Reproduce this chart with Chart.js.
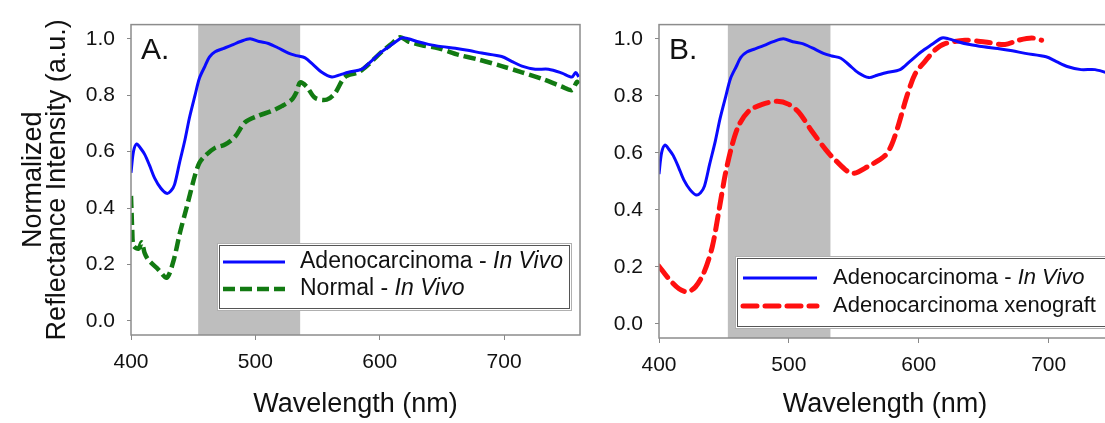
<!DOCTYPE html>
<html>
<head>
<meta charset="utf-8">
<script src="https://cdn.jsdelivr.net/npm/chart.js@4.4.1/dist/chart.umd.min.js"></script>
<style>
  html, body { margin: 0; padding: 0; background: #fff; overflow: hidden; width: 1105px; height: 423px; }
  #panelA { position: absolute; left: 0; top: 0; }
  #panelB { position: absolute; left: 600px; top: 0; }
</style>
</head>
<body>
<canvas id="panelA" width="600" height="423"></canvas>
<canvas id="panelB" width="530" height="423"></canvas>
<script>
// Values: wavelength (nm) and normalized reflectance (a.u.)
const adenoWl = [400, 402, 404.6, 408, 411, 415, 419, 424, 428.7, 432, 435, 439, 443.4, 447, 451.5, 455, 459.5, 463, 467.6, 474,
  481, 488, 495.7, 503, 510.5, 518, 526.6, 533, 540, 546, 553.4, 561.5, 568, 574.8, 585.6, 593, 601.7, 610, 617.8, 623,
  630, 639.2, 650, 660.7, 672, 682, 698, 706, 714.3, 725, 735.7, 746.5, 754.5, 757.5, 760];
const adenoVal = [0.525, 0.60, 0.627, 0.61, 0.59, 0.55, 0.506, 0.47, 0.452, 0.46, 0.483, 0.56, 0.642, 0.72, 0.80, 0.86, 0.903, 0.935, 0.954, 0.965,
  0.977, 0.99, 1.0, 0.99, 0.983, 0.968, 0.949, 0.94, 0.932, 0.91, 0.881, 0.864, 0.872, 0.881, 0.892, 0.92, 0.954, 0.98, 1.003, 1.0,
  0.99, 0.98, 0.972, 0.966, 0.958, 0.949, 0.937, 0.92, 0.903, 0.892, 0.892, 0.878, 0.864, 0.88, 0.865];

const normalWl = [400, 400.5, 401, 402, 406, 408.7, 411, 414, 422, 428.7, 434, 439.4, 444.8, 451.5, 455, 459.5, 467.6, 475.6, 483.7, 491.7,
  502.4, 513.2, 521.2, 529.3, 533, 536, 541.3, 548, 557.4, 564, 572, 582.8, 591, 601.7, 609, 616.4, 623, 633.9, 647.3, 663.4,
  679.5, 698, 714.3, 730.4, 746.5, 754.5, 758.5, 760];
const normalVal = [0.443, 0.38, 0.32, 0.267, 0.256, 0.278, 0.24, 0.216, 0.182, 0.153, 0.21, 0.313, 0.403, 0.517, 0.56, 0.585, 0.613, 0.625, 0.653, 0.704,
  0.727, 0.744, 0.761, 0.784, 0.81, 0.845, 0.83, 0.79, 0.784, 0.807, 0.864, 0.881, 0.909, 0.954, 0.98, 1.005, 0.99, 0.977, 0.966, 0.943,
  0.926, 0.903, 0.881, 0.858, 0.83, 0.818, 0.847, 0.84];

const xenoWl = [400, 407.7, 415.4, 421.8, 428, 434.6, 441, 446, 451.2, 456.4, 461.5, 469.2, 479.5, 491, 500, 507.7, 518, 528.2, 535.6, 548.5,
  561.2, 574, 579.2, 584.3, 590.8, 597.2, 604.8, 612.5, 620.2, 635.6, 651, 666.4, 676.6, 687, 694.6];
const xenoVal = [0.202, 0.157, 0.123, 0.112, 0.129, 0.18, 0.27, 0.393, 0.528, 0.629, 0.697, 0.747, 0.77, 0.781, 0.77, 0.742, 0.674, 0.612, 0.575, 0.528,
  0.553, 0.59, 0.629, 0.697, 0.798, 0.877, 0.921, 0.961, 0.983, 0.995, 0.989, 0.98, 0.995, 1.003, 0.995];

const xTicks = [400, 500, 600, 700];
const yTicks = [0.0, 0.2, 0.4, 0.6, 0.8, 1.0];
const bandA = [454, 536]; // shaded wavelength window, panel A
const bandB = [453, 532]; // shaded wavelength window, panel B

const FONT = 'Arial, "Liberation Sans", sans-serif';
const pts = (xs, ys) => xs.map((x, i) => ({ x: x, y: ys[i] }));

const adenoSet = () => ({
  label: 'Adenocarcinoma - In Vivo', data: pts(adenoWl, adenoVal),
  borderColor: '#0a0aff', borderWidth: 3, pointRadius: 0, tension: 0.3, fill: false
});

// gray band, plot frame, panel letter and the custom legend
const panelDecor = {
  id: 'panelDecor',
  beforeDatasetsDraw(chart, args, opts) {
    const { ctx, chartArea: a, scales: { x } } = chart;
    const x0 = x.getPixelForValue(opts.band[0]);
    const x1 = x.getPixelForValue(opts.band[1]);
    ctx.save();
    ctx.fillStyle = '#bebebe';
    ctx.fillRect(x0, a.top, x1 - x0, a.bottom - a.top);
    ctx.restore();
  },
  afterDatasetsDraw(chart, args, opts) {
    const { ctx, chartArea: a } = chart;
    ctx.save();
    ctx.strokeStyle = '#8c8c8c';
    ctx.lineWidth = 1.5;
    ctx.strokeRect(a.left, a.top, a.right - a.left, a.bottom - a.top);

    ctx.fillStyle = '#111';
    ctx.font = '30px ' + FONT;
    ctx.textBaseline = 'alphabetic';
    ctx.fillText(opts.letter, a.left + 10, a.top + 34);

    const L = opts.legend;
    ctx.fillStyle = '#fff';
    ctx.fillRect(L.x, L.y, L.w, L.h);
    ctx.lineWidth = 1;
    ctx.strokeStyle = '#b0b0b0';
    ctx.strokeRect(L.x + 0.5, L.y + 0.5, L.w, L.h);
    ctx.strokeStyle = '#555';
    ctx.strokeRect(L.x + 2.5, L.y + 2.5, L.w - 4, L.h - 4);
    chart.data.datasets.forEach((ds, i) => {
      const y = L.rowY[i];
      ctx.strokeStyle = ds.borderColor;
      ctx.lineWidth = ds.borderWidth;
      ctx.setLineDash(ds.borderDash || []);
      ctx.lineCap = ds.borderCapStyle || 'butt';
      ctx.beginPath();
      ctx.moveTo(L.lineX[0], y);
      ctx.lineTo(L.lineX[1], y);
      ctx.stroke();
      ctx.setLineDash([]);
      let tx = L.textX;
      ds.label.split(/(In Vivo)/).filter(Boolean).forEach(part => {
        ctx.font = (part === 'In Vivo' ? 'italic ' : '') + L.size + 'px ' + FONT;
        ctx.fillStyle = '#111';
        ctx.textBaseline = 'middle';
        ctx.fillText(part, tx, y);
        tx += ctx.measureText(part).width;
      });
    });
    ctx.restore();
  }
};

function makeOptions(p) {
  return {
    responsive: false,
    animation: false,
    devicePixelRatio: 1,
    layout: { padding: { top: p.top, right: p.right, left: 0, bottom: 0 } },
    plugins: {
      legend: { display: false },
      tooltip: { enabled: false },
      panelDecor: { band: p.band, letter: p.letter, legend: p.legend }
    },
    scales: {
      x: {
        type: 'linear', min: 400, max: p.xMax,
        afterFit: s => { s.height = p.xHeight; },
        afterBuildTicks: s => { s.ticks = xTicks.map(v => ({ value: v })); },
        grid: { drawOnChartArea: false, tickLength: 5, color: '#888' },
        border: { display: false },
        ticks: { padding: 10, color: '#111', font: { family: FONT, size: 21 } },
        title: {
          display: true, text: 'Wavelength (nm)', color: '#111',
          font: { family: FONT, size: 27 }, padding: { top: 0, bottom: 2 }
        }
      },
      y: {
        type: 'linear', min: -0.05, max: 1.05,
        afterFit: s => { s.width = p.yWidth; },
        afterBuildTicks: s => { s.ticks = yTicks.map(v => ({ value: v })); },
        grid: { drawOnChartArea: false, tickLength: 4, color: '#888' },
        border: { display: false },
        ticks: { padding: 12, color: '#111', font: { family: FONT, size: 21 }, callback: v => v.toFixed(1) },
        title: {
          display: p.yTitle != null, text: p.yTitle || '', color: '#111',
          font: { family: FONT, size: 27, lineHeight: 0.9 }, padding: { top: 21, bottom: 0 }
        }
      }
    }
  };
}

new Chart(document.getElementById('panelA'), {
  type: 'line',
  data: {
    datasets: [
      adenoSet(),
      {
        label: 'Normal - In Vivo', data: pts(normalWl, normalVal),
        borderColor: '#127a12', borderWidth: 4.5, borderDash: [12, 5], pointRadius: 0, tension: 0.3, fill: false
      }
    ]
  },
  options: makeOptions({
    letter: 'A.', band: bandA, top: 13, right: 20, xMax: 761, xHeight: 88, yWidth: 131,
    yTitle: ['Normalized', 'Reflectance Intensity (a.u.)'],
    legend: { x: 217, y: 243, w: 354, h: 67, lineX: [223, 285], textX: 300, rowY: [262, 289], size: 23 }
  }),
  plugins: [panelDecor]
});

new Chart(document.getElementById('panelB'), {
  type: 'line',
  data: {
    datasets: [
      adenoSet(),
      {
        label: 'Adenocarcinoma xenograft', data: pts(xenoWl, xenoVal),
        borderColor: '#ff1010', borderWidth: 5, borderDash: [14, 8], borderCapStyle: 'round',
        pointRadius: 0, tension: 0.3, fill: false
      }
    ]
  },
  options: makeOptions({
    letter: 'B.', band: bandB, top: 12, right: 19, xMax: 748, xHeight: 85, yWidth: 59,
    yTitle: null,
    legend: { x: 135, y: 256, w: 375, h: 72, lineX: [143, 217], textX: 233, rowY: [278, 306], size: 22 }
  }),
  plugins: [panelDecor]
});
</script>
</body>
</html>
